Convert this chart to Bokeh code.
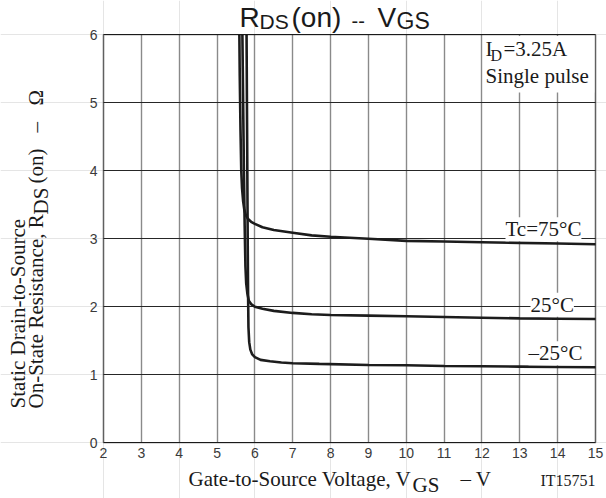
from math import pi
from bokeh.plotting import figure
from bokeh.models import Label, BoxAnnotation, FixedTicker, LinearAxis, Grid, Range1d
from bokeh.embed import file_html
from bokeh.resources import INLINE

# ---- data ----
vgs_75 = [5.59, 5.60, 5.62, 5.64, 5.66, 5.69, 5.72, 5.76, 5.82, 5.90, 6.0, 6.2, 6.5, 7.0, 7.5, 8.0, 9.0, 10.0, 11.0, 12.0, 13.0, 14.0, 15.0]
rds_75 = [6.0, 5.4, 4.6, 4.0, 3.75, 3.55, 3.43, 3.35, 3.29, 3.25, 3.22, 3.17, 3.13, 3.09, 3.05, 3.03, 3.00, 2.97, 2.96, 2.95, 2.94, 2.93, 2.92]

vgs_25 = [5.67, 5.69, 5.71, 5.73, 5.75, 5.77, 5.80, 5.84, 5.90, 6.0, 6.2, 6.5, 7.0, 7.5, 8.0, 9.0, 10.0, 11.0, 12.0, 13.0, 14.0, 15.0]
rds_25 = [6.0, 5.0, 4.0, 3.2, 2.6, 2.35, 2.2, 2.09, 2.04, 2.00, 1.97, 1.94, 1.91, 1.89, 1.88, 1.87, 1.86, 1.85, 1.84, 1.83, 1.825, 1.82]

vgs_m25 = [5.78, 5.79, 5.80, 5.81, 5.82, 5.83, 5.85, 5.88, 5.93, 6.0, 6.15, 6.4, 6.7, 7.0, 7.7, 9.0, 10.0, 11.0, 12.0, 13.0, 14.0, 15.0]
rds_m25 = [6.0, 5.0, 4.0, 3.0, 2.2, 1.7, 1.48, 1.37, 1.30, 1.26, 1.22, 1.20, 1.18, 1.17, 1.16, 1.145, 1.14, 1.13, 1.125, 1.12, 1.115, 1.11]

x_ticks = list(range(2, 16))
y_ticks = list(range(0, 7))

W, H = 606, 498
# chart box in canvas pixels (from the reference)
BOX_L, BOX_R, BOX_T, BOX_B = 103.0, 595.0, 34.3, 442.3

def fx(px):
    return x_ticks[0] + (px - BOX_L) * (x_ticks[-1] - x_ticks[0]) / (BOX_R - BOX_L)

def fy(py):
    return y_ticks[0] + (BOX_B - py) * (y_ticks[-1] - y_ticks[0]) / (BOX_B - BOX_T)

SERIF = "Liberation Serif"
SANS = "Liberation Sans"
TICK_COLOR = "#3a3a3a"

p = figure(width=W, height=H,
           x_range=Range1d(fx(0), fx(W)), y_range=Range1d(fy(H), fy(0)),
           x_axis_location=None, y_axis_location=None,
           output_backend="svg", toolbar_location=None, title=None,
           min_border=0, min_border_left=0, min_border_right=0,
           min_border_top=0, min_border_bottom=0)
p.background_fill_color = "white"
p.border_fill_color = "white"
p.outline_line_color = None

xr = (x_ticks[0], x_ticks[-1])
yr = (y_ticks[0], y_ticks[-1])

# grids limited to the chart box
p.add_layout(Grid(dimension=0, ticker=FixedTicker(ticks=x_ticks), cross_bounds=yr,
                  grid_line_color="#8a8a8a", grid_line_width=1.4))
p.add_layout(Grid(dimension=1, ticker=FixedTicker(ticks=y_ticks), cross_bounds=xr,
                  grid_line_color="#262626", grid_line_width=1.1))

# axes drawn at the chart box edges
xaxis = LinearAxis(ticker=FixedTicker(ticks=x_ticks), fixed_location=yr[0], bounds=xr)
yaxis = LinearAxis(ticker=FixedTicker(ticks=y_ticks), fixed_location=xr[0], bounds=yr)
for ax in (xaxis, yaxis):
    ax.major_tick_in = 0
    ax.major_tick_out = 0
    ax.minor_tick_in = 0
    ax.minor_tick_out = 0
    ax.axis_line_color = None
    ax.major_label_text_font = SANS
    ax.major_label_text_font_size = "14px"
    ax.major_label_text_color = TICK_COLOR
xaxis.major_label_standoff = 5
yaxis.major_label_standoff = 6
p.add_layout(xaxis, "below")
p.add_layout(yaxis, "left")

for xs, ys in ((vgs_75, rds_75), (vgs_25, rds_25), (vgs_m25, rds_m25)):
    p.line(xs, ys, line_color="#1c1c1c", line_width=2.6)

# white box behind the condition text
p.add_layout(BoxAnnotation(left=fx(483), right=fx(594), top=fy(35.5), bottom=fy(92),
                           fill_color="white", fill_alpha=1.0, line_color=None))
# chart border
p.add_layout(BoxAnnotation(left=xr[0], right=xr[1], bottom=yr[0], top=yr[1],
                           fill_alpha=0.0, fill_color=None,
                           line_color="black", line_width=1.5))

def lab(text, px, base, size, font=SERIF, align="left", angle=0,
        color="#1a1a1a", bg=None):
    """px, base: reference pixel position of the text start and its baseline."""
    k = 0.35 if font == SANS else 0.34
    if angle == 0:
        x, y = fx(px), fy(base - k * size)
    else:  # rotated 90 deg: baseline is a vertical line at x = px, start at y = base
        x, y = fx(px - k * size), fy(base)
    kw = dict(x=x, y=y, text=text, text_font=font,
              text_font_size=f"{size}px", text_align=align,
              text_baseline="middle", angle=angle, text_color=color)
    if bg:
        kw["background_fill_color"] = bg
    p.add_layout(Label(**kw))

# title
lab("R", 239, 27, 28, font=SANS)
lab("DS", 259, 28.5, 21, font=SANS)
lab("(on)", 291, 27, 28, font=SANS)
lab("--", 351, 27, 20, font=SANS)
lab("V", 377, 27, 28, font=SANS)
lab("GS", 396, 28.5, 23, font=SANS)

# conditions
lab("I", 485, 56, 21)
lab("D", 490, 60, 16)
lab("=3.25A", 503, 56, 21)
lab("Single pulse", 485, 83, 21)

# curve labels
lab("Tc=75°C", 505, 236, 21, bg="white")
lab("25°C", 530, 311.5, 21, bg="white")
lab("\u201325°C", 528, 360, 21, bg="white")

# x axis title
lab("Gate-to-Source Voltage, V", 411, 485.3, 21, align="right")
lab("GS", 412, 491.3, 21)
lab("\u2013  V", 460, 485.3, 21)
lab("IT15751", 540, 485.3, 16)

# y axis title (rotated)
lab("Static Drain-to-Source", 25, 408, 21, angle=pi / 2)
lab("On-State Resistance, R", 43, 408, 21, angle=pi / 2)
lab("DS", 48, 214, 21, angle=pi / 2)
lab("(on)", 43, 183, 21, angle=pi / 2)
lab("\u2013", 43, 132, 21, angle=pi / 2)
lab("\u03a9", 43, 105, 21, angle=pi / 2)

open("out.html", "w").write(file_html(p, INLINE))
